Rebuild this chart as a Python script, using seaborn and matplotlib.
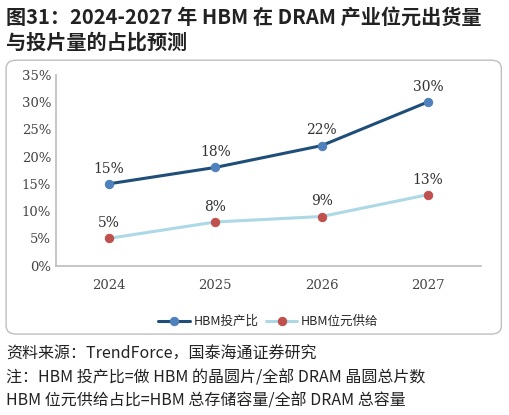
import matplotlib
matplotlib.use("Agg")
import matplotlib.pyplot as plt
import seaborn as sns
import pandas as pd
from matplotlib.patches import FancyBboxPatch

years = ["2024", "2025", "2026", "2027"]
wafer = [15, 18, 22, 30]
bit = [5, 8, 9, 13]
yticks = [0, 5, 10, 15, 20, 25, 30, 35]

sns.set_theme(style="white")
plt.rcParams['font.family'] = ['Noto Sans CJK SC', 'DejaVu Sans']

fig = plt.figure(figsize=(5.09, 4.15), dpi=100)
fig.text(0.012, 0.985, "图31：2024-2027 年 HBM 在 DRAM 产业位元出货量", fontsize=14.5, fontweight='bold', va='top', color='#222')
fig.text(0.012, 0.925, "与投片量的占比预测", fontsize=14.5, fontweight='bold', va='top', color='#222')

box = FancyBboxPatch((0.012, 0.195), 0.973, 0.66, boxstyle="round,pad=0,rounding_size=0.02",
                     transform=fig.transFigure, fill=False, edgecolor='#bfbfbf', lw=1)
fig.patches.append(box)

ax = fig.add_axes([0.11, 0.36, 0.835, 0.46])
x = list(range(len(years)))
sns.lineplot(x=x, y=wafer, ax=ax, color='#1f4e79', lw=2.2, marker='o', markersize=6,
             markerfacecolor='#4f81bd', markeredgecolor='#4f81bd', label="HBM投产比")
sns.lineplot(x=x, y=bit, ax=ax, color='#add8e6', lw=2.2, marker='o', markersize=6,
             markerfacecolor='#c0504d', markeredgecolor='#c0504d', label="HBM位元供给")
for xi, v in zip(x, wafer):
    ax.text(xi, v + 1.5, f"{v}%", ha='center', va='bottom', fontsize=10, color='#333', family='DejaVu Serif')
for xi, v in zip(x, bit):
    ax.text(xi, v + 1.5, f"{v}%", ha='center', va='bottom', fontsize=10, color='#333', family='DejaVu Serif')
ax.set_xlim(-0.5, 3.5)
ax.set_ylim(0, 35)
ax.set_yticks(yticks)
ax.set_yticklabels([f"{t}%" for t in yticks], family='DejaVu Serif', fontsize=9.5, color='#444')
ax.set_xticks(x)
ax.set_xticklabels(years, family='DejaVu Serif', fontsize=9.5, color='#444')
for s in ['top', 'right']:
    ax.spines[s].set_visible(False)
ax.spines['left'].set_color('#bfbfbf')
ax.spines['bottom'].set_color('#bfbfbf')
ax.tick_params(axis='x', length=0, pad=10)
ax.tick_params(axis='y', length=0)
ax.legend(loc='upper center', bbox_to_anchor=(0.5, -0.2), ncol=2, frameon=False, fontsize=9,
          handlelength=2.5, columnspacing=0.6, handletextpad=0.3)

fig.text(0.012, 0.168, "资料来源：TrendForce，国泰海通证券研究", fontsize=11.5, va='top', color='#222')
fig.text(0.012, 0.110, "注：HBM 投产比=做 HBM 的晶圆片/全部 DRAM 晶圆总片数", fontsize=11.5, va='top', color='#222')
fig.text(0.012, 0.054, "HBM 位元供给占比=HBM 总存储容量/全部 DRAM 总容量", fontsize=11.5, va='top', color='#222')

fig.savefig("out.png", dpi=100)
